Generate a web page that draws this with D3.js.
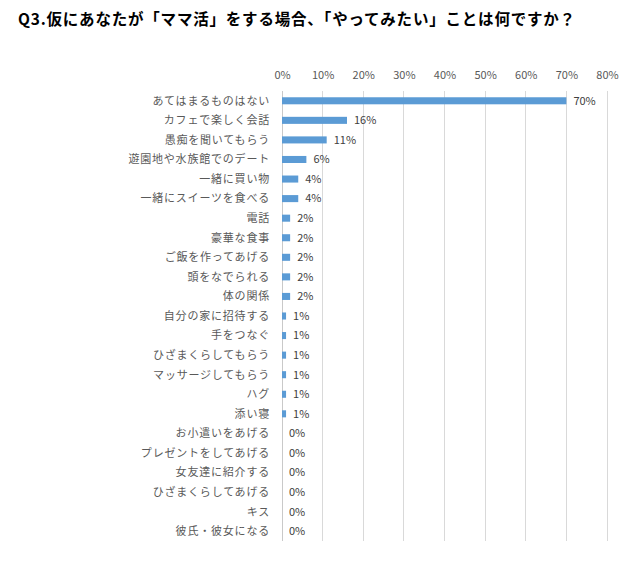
<!DOCTYPE html>
<html><head><meta charset="utf-8">
<script src="https://cdn.jsdelivr.net/npm/d3@7"></script>
<style>body{margin:0;background:#fff;} svg{display:block;}</style>
</head><body>
<script>
const title = "Q3.仮にあなたが「ママ活」をする場合、「やってみたい」ことは何ですか？";
const categories = ["あてはまるものはない","カフェで楽しく会話","愚痴を聞いてもらう","遊園地や水族館でのデート","一緒に買い物","一緒にスイーツを食べる","電話","豪華な食事","ご飯を作ってあげる","頭をなでられる","体の関係","自分の家に招待する","手をつなぐ","ひざまくらしてもらう","マッサージしてもらう","ハグ","添い寝","お小遣いをあげる","プレゼントをしてあげる","女友達に紹介する","ひざまくらしてあげる","キス","彼氏・彼女になる"];
const values = [70,16,11,6,4,4,2,2,2,2,2,1,1,1,1,1,1,0,0,0,0,0,0];
const tickValues = [0,10,20,30,40,50,60,70,80];

const W = 638, H = 567;
const svg = d3.select("body").append("svg").attr("width", W).attr("height", H);
const font = "'Noto Sans CJK JP', 'Noto Sans', sans-serif";

svg.append("text").attr("x", 18).attr("y", 25).text(title)
  .attr("font-family", font).attr("font-size", 15.5).attr("font-weight", "bold")
  .attr("letter-spacing", 0.8).attr("fill", "#000");

const x = d3.scaleLinear().domain([0, 80]).range([282, 607]);
const y = d3.scaleBand().domain(categories).range([91, 541]).paddingInner(0.64).paddingOuter(0.32);

// gridlines
svg.append("g").selectAll("line").data(tickValues).join("line")
  .attr("x1", d => x(d)).attr("x2", d => x(d)).attr("y1", 91).attr("y2", 541)
  .attr("stroke", d => d === 0 ? "#c9c9c9" : "#d9d9d9").attr("stroke-width", 1)
  .attr("shape-rendering", "crispEdges");

// top axis labels
const axis = d3.axisTop(x).tickValues(tickValues).tickFormat(d => d + "%").tickSize(0);
const ag = svg.append("g").attr("transform", "translate(0,82)").call(axis);
ag.select(".domain").remove();
ag.selectAll("text").attr("font-family", font).attr("font-size", 11).attr("fill", "#595959");

// category labels
svg.append("g").selectAll("text").data(categories).join("text")
  .attr("x", 270).attr("y", d => y(d) + y.bandwidth() / 2).attr("dy", "0.35em")
  .attr("text-anchor", "end").text(d => d)
  .attr("font-family", font).attr("font-size", 11).attr("letter-spacing", 0.8).attr("fill", "#595959");

// bars
svg.append("g").selectAll("rect").data(values).join("rect")
  .attr("x", x(0)).attr("y", (d, i) => y(categories[i]))
  .attr("width", d => x(d) - x(0)).attr("height", y.bandwidth())
  .attr("fill", "#5b9bd5");

// value labels
svg.append("g").selectAll("text").data(values).join("text")
  .attr("x", d => x(d) + 7).attr("y", (d, i) => y(categories[i]) + y.bandwidth() / 2).attr("dy", "0.35em")
  .text(d => d + "%")
  .attr("font-family", font).attr("font-size", 11).attr("fill", "#404040");
</script>
</body></html>
